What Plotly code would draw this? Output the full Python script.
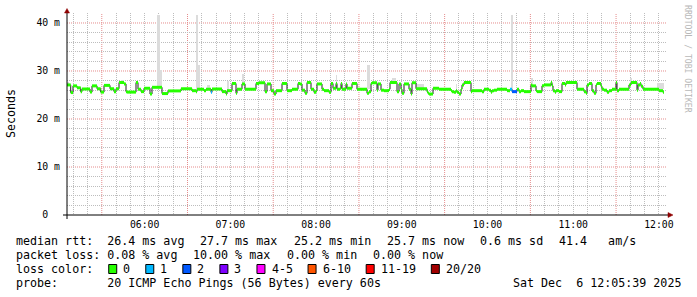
import pandas as pd
import plotly.graph_objects as go

# ---------------- data ----------------
T0 = pd.Timestamp("2025-12-06 05:05:39")
T_END = pd.Timestamp("2025-12-06 12:05:39")

# median rtt steps: start (minutes after T0), value (ms), lost pings (of 20)
median_min = [0, 2.6, 4.2, 7.0, 9.6, 10.5, 16.1, 17.5, 21.0, 23.6, 25.9, 30.1, 32.9, 34.3, 36.4, 39.9, 41.3, 42.0,
              48.3, 49.7, 51.8, 53.9, 58.1, 59.5, 66.5, 70.7, 79.8, 87.5, 90.3, 91.0, 95.9, 97.3, 100.8, 101.5,
              108.5, 111.3, 112.0, 115.5, 118.3, 119.0, 122.5, 124.6, 132.3, 134.4, 138.6, 140.0, 142.8, 144.9,
              146.3, 150.5, 154.0, 157.5, 161.7, 163.1, 164.5, 166.6, 168.0, 170.8, 172.9, 174.3, 175.0, 178.5,
              179.9, 183.4, 184.8, 186.2, 188.3, 189.0, 191.1, 191.8, 192.5, 195.3, 196.0, 199.5, 203.0, 210.0,
              211.4, 212.8, 213.5, 217.0, 217.7, 219.8, 221.9, 225.4, 226.1, 231.0, 232.4, 233.8, 234.5, 235.9,
              239.4, 240.8, 241.5, 244.3, 252.0, 252.7, 253.4, 256.2, 260.4, 268.8, 269.5, 270.9, 272.3, 273.0,
              274.4, 275.8, 276.5, 277.9, 282.8, 283.5, 290.5, 291.9, 295.4, 296.8, 297.5, 298.9, 301.0, 308.0,
              310.1, 311.5, 315.0, 316.4, 317.8, 319.9, 324.8, 325.5, 328.3, 329.0, 332.5, 333.9, 338.8, 339.5,
              340.2, 341.6, 342.3, 344.4, 346.5, 348.6, 349.3, 357.0, 361.9, 363.3, 364.0, 365.4, 367.5, 368.9,
              370.3, 371.0, 373.8, 374.5, 375.9, 378.0, 379.4, 381.5, 384.3, 385.0, 386.4, 393.4, 394.8, 399.0,
              399.7, 401.1, 401.8, 403.2, 414.4, 417.2]
median_ms = [27.1, 25.5, 26.9, 26.5, 25.7, 26.25, 25.6, 26.9, 26.3, 25.6, 27.0, 26.3, 25.7, 26.3, 27.6, 27.3, 25.7, 25.6,
             27.6, 26.2, 25.7, 26.4, 25.2, 26.6, 25.3, 25.85, 26.3, 25.9, 25.7, 26.2, 25.9, 26.2, 25.55, 26.25,
             25.7, 25.2, 25.9, 27.4, 25.35, 26.2, 27.3, 26.2, 27.4, 27.55, 25.7, 27.3, 25.9, 25.2,
             25.9, 27.4, 25.9, 26.2, 27.4, 27.3, 26.0, 25.35, 27.6, 26.2, 25.55, 25.9, 27.3, 26.2,
             25.9, 25.55, 27.4, 26.4, 27.4, 26.2, 26.4, 27.4, 26.2, 27.3, 26.4, 27.4, 26.2, 25.35,
             25.7, 27.4, 27.55, 26.0, 27.3, 26.0, 25.9, 26.2, 27.6, 25.7, 27.3, 26.2, 25.35, 27.3,
             26.2, 25.2, 27.55, 26.3, 25.7, 25.35, 25.2, 26.4, 26.2, 25.9, 25.7, 25.55, 25.9, 25.55,
             25.2, 26.2, 27.1, 27.6, 25.7, 25.9, 25.7, 26.2, 26.0, 25.55, 25.9, 26.0, 26.2, 25.9,
             26.2, 25.7, 26.2, 25.7, 25.9, 25.7, 27.1, 26.9, 25.9, 25.7, 26.9, 27.1, 27.6, 26.9,
             25.9, 25.55, 25.9, 25.7, 27.4, 27.1, 27.6, 26.2, 25.7, 25.35, 27.1, 27.4, 25.9, 25.35,
             27.1, 27.4, 26.8, 26.2, 26.0, 25.55, 25.9, 26.2, 27.6, 25.9, 26.2, 27.1, 27.6, 26.0,
             27.1, 27.4, 26.8, 26.2, 25.9, 25.55]
median_loss = [0] * len(median_min)
median_loss[median_min.index(100.8)] = 1
median_loss[median_min.index(310.1)] = 1
median_loss[median_min.index(311.5)] = 2
median_end_min = 417.9

# smoke (ping spread) patches visible above the median line
smoke_start_min = [0.0, 37.8, 63.0, 64.8, 90.3, 91.4, 98.0, 112.0, 122.5, 188.3, 210.0, 227.5, 244.3,
                   272.3, 310.8, 324.8, 394.0, 413.0]
smoke_end_min = [1.4, 39.9, 64.8, 66.2, 91.4, 92.8, 100.0, 113.4, 123.9, 189.0, 212.0, 230.3, 250.0,
                 273.0, 312.2, 325.9, 395.5, 417.9]
smoke_lo_ms = [27.0, 27.5, 26.5, 26.5, 26.2, 26.2, 26.2, 26.0, 27.3, 27.4, 26.2, 27.6, 26.3,
               26.0, 26.0, 27.1, 27.6, 26.2]
smoke_hi_ms = [27.8, 28.1, 41.7, 30.2, 41.7, 31.3, 27.0, 28.0, 29.3, 29.2, 31.3, 28.6, 27.2,
               27.2, 41.7, 28.5, 28.6, 27.4]

x_tick_times = ["2025-12-06 06:00", "2025-12-06 07:00", "2025-12-06 08:00", "2025-12-06 09:00",
                "2025-12-06 10:00", "2025-12-06 11:00", "2025-12-06 12:00"]
x_tick_text = ["06:00", "07:00", "08:00", "09:00", "10:00", "11:00", "12:00"]
x_major_grid = ["2025-12-06 05:30", "2025-12-06 06:30", "2025-12-06 07:30", "2025-12-06 08:30",
                "2025-12-06 09:30", "2025-12-06 10:30", "2025-12-06 11:30"]
x_minor_grid = [t for t in pd.date_range("2025-12-06 05:10", "2025-12-06 12:05", freq="10min")
                if t.minute not in (0, 30)]
y_tick_vals = [0, 10, 20, 30, 40]
y_tick_text = ["0  ", "10 m", "20 m", "30 m", "40 m"]
y_minor_vals = [v for v in range(2, 43, 2) if v % 10]

loss_labels = ["0", "1", "2", "3", "4-5", "6-10", "11-19", "20/20"]
loss_lo = [0, 1, 2, 3, 4, 6, 11, 20]
loss_hi = [0, 1, 2, 3, 5, 10, 19, 20]
loss_colors = ["#26ff00", "#00b8ff", "#0059ff", "#7e00ff", "#ff00ff", "#ff5500", "#ff0000", "#a10000"]

rtt_legend = ["median rtt:  26.4 ms avg", "27.7 ms max", "25.2 ms min", "25.7 ms now", "0.6 ms sd", "41.4   am/s"]
loss_legend = ["packet loss: 0.08 % avg", "10.00 % max", "0.00 % min", "0.00 % now"]
probe_text = "probe:       20 ICMP Echo Pings (56 Bytes) every 60s"
date_text = "Sat Dec  6 12:05:39 2025"
y_title = "Seconds"
watermark = "RRDTOOL / TOBI OETIKER"

# ---------------- figure ----------------
W, H = 697, 297
L, R, TOP, BOT = 67, 667, 13, 215
MONO = "DejaVu Sans Mono"
CW = 7.02   # char width of legend font
GAP = 16


def px(x):
    return (x - L) / (R - L)


def py(y):
    return (BOT - y) / (BOT - TOP)


def nb(s):
    return s.replace(" ", "\u00a0")


def tm(m):
    return T0 + pd.to_timedelta(m, unit="min")


fig = go.Figure()

# smoke
s_start = [tm(a) for a in smoke_start_min]
s_end = [tm(b) for b in smoke_end_min]
fig.add_trace(go.Bar(
    x=[a + (b - a) / 2 for a, b in zip(s_start, s_end)],
    y=[h - l for h, l in zip(smoke_hi_ms, smoke_lo_ms)],
    base=smoke_lo_ms,
    width=[(b - a).total_seconds() * 1000 for a, b in zip(s_start, s_end)],
    marker=dict(color="#dcdcdc", line=dict(width=0)),
    hoverinfo="skip",
))

# dark step line
times = [tm(m) for m in median_min] + [tm(median_end_min)]
fig.add_trace(go.Scatter(
    x=times, y=median_ms + [median_ms[-1]], mode="lines",
    line=dict(color="#202020", width=1, shape="hv"), hoverinfo="skip",
))

# coloured horizontal segments by loss class
for lab, lo, hi, col in zip(loss_labels, loss_lo, loss_hi, loss_colors):
    xs, ys = [], []
    for i, v in enumerate(median_ms):
        if lo <= median_loss[i] <= hi:
            xs += [times[i], times[i + 1], None]
            ys += [v, v, None]
    if xs:
        fig.add_trace(go.Scatter(x=xs, y=ys, mode="lines",
                                 line=dict(color=col, width=3), hoverinfo="skip"))

GRAY = "#bdbdbd"
RED = "#e58c8c"
DOT = "1px,1px"

shapes = []
# major (red) grid
for g in x_major_grid:
    shapes.append(dict(type="line", xref="x", yref="paper", x0=g, x1=g, y0=0, y1=1,
                       line=dict(color=RED, width=1, dash=DOT), layer="between"))
for v in y_tick_vals[1:]:
    shapes.append(dict(type="line", xref="paper", yref="y", x0=0, x1=1, y0=v, y1=v,
                       line=dict(color=RED, width=1, dash=DOT), layer="between"))

# axes with arrows
AX = "#000000"
ARW = "#8f0000"
shapes += [
    dict(type="line", xref="paper", yref="paper", x0=px(63), x1=px(668), y0=0, y1=0,
         line=dict(color=AX, width=1), layer="above"),
    dict(type="line", xref="paper", yref="paper", x0=0, x1=0, y0=py(219), y1=py(11),
         line=dict(color=AX, width=1), layer="above"),
    dict(type="path", xref="paper", yref="paper",
         path=f"M {px(64.5)} {py(13)} L {px(69.5)} {py(13)} L {px(67)} {py(8.5)} Z",
         fillcolor=ARW, line=dict(color=ARW, width=0.5), layer="above"),
    dict(type="path", xref="paper", yref="paper",
         path=f"M {px(668)} {py(212.5)} L {px(668)} {py(217.5)} L {px(673)} {py(215)} Z",
         fillcolor=ARW, line=dict(color=ARW, width=0.5), layer="above"),
]

annotations = []


def text(x, y, s, size=11.66, xanchor="left", color="#000000", angle=0, yanchor="middle"):
    annotations.append(dict(x=px(x), y=py(y), xref="paper", yref="paper", text=nb(s),
                            showarrow=False, xanchor=xanchor, yanchor=yanchor, textangle=angle,
                            borderpad=0, borderwidth=0,
                            font=dict(family=MONO, size=size, color=color)))


# legend lines laid out rrdtool style
LINE_Y = [241.3, 255.0, 269.0, 283.0]
x = 16
for chunk in rtt_legend:
    text(x, LINE_Y[0], chunk)
    x += len(chunk) * CW + GAP
x = 16
for chunk in loss_legend:
    text(x, LINE_Y[1], chunk)
    x += len(chunk) * CW + GAP
x = 16
text(x, LINE_Y[2], "loss color:")
x += len("loss color:") * CW + GAP
for lab, col in zip(loss_labels, loss_colors):
    shapes.append(dict(type="rect", xref="paper", yref="paper",
                       x0=px(x - 0.5), x1=px(x + 7.5), y0=py(264.5), y1=py(273.5),
                       fillcolor=col, line=dict(color="#000000", width=1), layer="above"))
    text(x + 2 * CW, LINE_Y[2], lab)
    x += (len(lab) + 2) * CW + GAP
text(16, LINE_Y[3], probe_text)
text(681, LINE_Y[3], date_text, xanchor="right")

# y-axis title and watermark
text(11, 114, y_title, angle=-90, xanchor="center")
text(687.5, 58.5, watermark, size=8.15, xanchor="center", color="#b8b8b8", angle=90)

tickfont = dict(family=MONO, size=9.8, color="#000000")
fig.update_layout(
    width=W, height=H, autosize=False,
    margin=dict(l=L, r=W - R, t=TOP, b=H - BOT, pad=0),
    paper_bgcolor="#ffffff", plot_bgcolor="#ffffff",
    showlegend=False, bargap=0,
    shapes=shapes, annotations=annotations,
    xaxis=dict(
        type="date", range=[T0, T_END],
        tickmode="array", tickvals=x_tick_times, ticktext=x_tick_text,
        showgrid=True, gridcolor=GRAY, griddash=DOT, gridwidth=1,
        minor=dict(tickmode="array", tickvals=x_minor_grid,
                   showgrid=True, gridcolor=GRAY, griddash=DOT, gridwidth=1),
        ticks="", showline=False, zeroline=False,
        tickfont=tickfont, ticklabelstandoff=2,
    ),
    yaxis=dict(
        range=[0, 42.08], tickmode="array", tickvals=y_tick_vals,
        ticktext=[nb(t) for t in y_tick_text],
        showgrid=False,
        minor=dict(tickmode="array", tickvals=y_minor_vals,
                   showgrid=True, gridcolor=GRAY, griddash=DOT, gridwidth=1),
        ticks="", showline=False, zeroline=False,
        tickfont=tickfont, ticklabelstandoff=6,
    ),
)

fig.write_html("out.html")
